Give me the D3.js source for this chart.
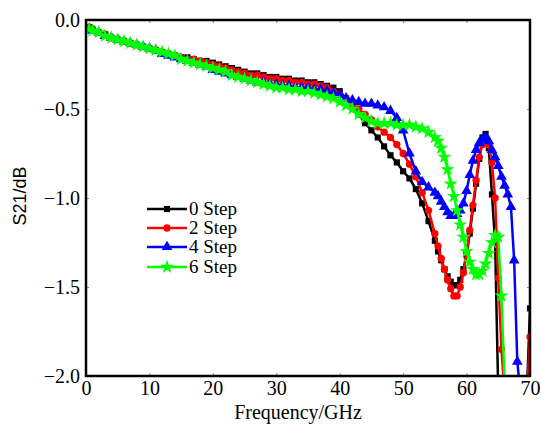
<!DOCTYPE html>
<html><head><meta charset="utf-8">
<script src="https://cdn.jsdelivr.net/npm/d3@7"></script>
<style>body{margin:0;background:#fff}svg{display:block}</style>
</head><body><svg id="c" width="541" height="432"></svg>
<script>
const freq = [0.5,
 1,2,3,4,5,6,7,8,9,10,11,12,13,14,15,16,17,18,19,20,21,22,23,24,25,26,27,28,29,30,
 31,32,33,34,35,36,37,38,39,40,41,42,43,44,45,46,47,48,49,50,51,52,53,54,55,
 55.5,56,56.5,57,57.5,58,58.5,59,59.5,60,60.5,61,61.5,62,62.5,63,63.5,64,64.5,65,
 65.5,66,66.5,67,67.5,68,68.5,69,69.5,70];

const step0 = [-0.04,
 -0.05,-0.07,-0.08,-0.10,-0.11,-0.12,-0.13,-0.14,-0.15,-0.16,
 -0.17,-0.18,-0.19,-0.20,-0.21,-0.21,-0.22,-0.23,-0.23,-0.24,
 -0.25,-0.26,-0.27,-0.28,-0.29,-0.30,-0.30,-0.31,-0.32,-0.32,
 -0.33,-0.33,-0.34,-0.34,-0.35,-0.35,-0.36,-0.37,-0.38,-0.40,
 -0.44,-0.48,-0.53,-0.58,-0.62,-0.66,-0.71,-0.76,-0.80,-0.85,
 -0.89,-0.95,-1.03,-1.13,-1.24,
 -1.30,-1.35,-1.40,-1.44,-1.47,-1.49,-1.49,-1.46,-1.40,-1.32,
 -1.20,-1.06,-0.92,-0.78,-0.66,-0.64,-0.72,-0.98,-1.25,-2.1,
 -2.1,-2.1,-2.1,-2.1,-2.1,-2.1,-2.1,-2.1,-2.1,-1.62];

const step2 = [-0.04,
 -0.05,-0.07,-0.08,-0.10,-0.11,-0.12,-0.13,-0.14,-0.15,-0.16,
 -0.17,-0.18,-0.19,-0.20,-0.21,-0.22,-0.22,-0.23,-0.24,-0.25,
 -0.26,-0.27,-0.28,-0.29,-0.30,-0.31,-0.31,-0.32,-0.33,-0.33,
 -0.34,-0.34,-0.35,-0.35,-0.36,-0.36,-0.37,-0.38,-0.40,-0.42,
 -0.44,-0.47,-0.50,-0.53,-0.56,-0.60,-0.63,-0.66,-0.70,-0.75,
 -0.81,-0.88,-0.97,-1.07,-1.20,
 -1.27,-1.34,-1.40,-1.46,-1.51,-1.55,-1.55,-1.50,-1.42,-1.31,
 -1.18,-1.04,-0.90,-0.77,-0.70,-0.67,-0.70,-0.80,-1.00,-1.45,
 -1.85,-2.1,-2.1,-2.1,-2.1,-2.1,-2.1,-2.1,-2.1,-1.78];

const step4 = [-0.05,
 -0.06,-0.07,-0.09,-0.10,-0.11,-0.12,-0.13,-0.14,-0.15,-0.16,
 -0.17,-0.19,-0.20,-0.21,-0.22,-0.23,-0.24,-0.25,-0.26,-0.28,
 -0.29,-0.30,-0.31,-0.32,-0.33,-0.34,-0.35,-0.35,-0.36,-0.36,
 -0.37,-0.37,-0.38,-0.38,-0.38,-0.39,-0.39,-0.40,-0.41,-0.42,
 -0.44,-0.45,-0.46,-0.47,-0.47,-0.48,-0.49,-0.51,-0.55,-0.62,
 -0.75,-0.85,-0.91,-0.94,-0.97,
 -0.99,-1.02,-1.05,-1.08,-1.10,-1.10,-1.09,-1.07,-1.03,-0.96,
 -0.87,-0.79,-0.73,-0.69,-0.67,-0.66,-0.68,-0.73,-0.77,-0.82,
 -0.88,-0.93,-0.98,-1.05,-1.35,-1.92,-2.1,-2.1,-2.1,-2.1];

const step6 = [-0.05,
 -0.06,-0.07,-0.09,-0.10,-0.11,-0.12,-0.13,-0.14,-0.15,-0.16,
 -0.17,-0.18,-0.19,-0.20,-0.22,-0.23,-0.24,-0.25,-0.26,-0.27,
 -0.28,-0.29,-0.31,-0.32,-0.33,-0.34,-0.35,-0.36,-0.37,-0.38,
 -0.38,-0.39,-0.39,-0.40,-0.40,-0.41,-0.42,-0.43,-0.44,-0.46,
 -0.48,-0.50,-0.53,-0.55,-0.57,-0.58,-0.58,-0.58,-0.59,-0.59,
 -0.59,-0.60,-0.61,-0.63,-0.66,
 -0.68,-0.72,-0.77,-0.84,-0.92,-0.99,-1.07,-1.15,-1.22,-1.30,
 -1.36,-1.40,-1.43,-1.43,-1.41,-1.37,-1.31,-1.25,-1.21,-1.22,
 -1.55,-2.05,-2.1,-2.1,-2.1,-2.1,-2.1,-2.1,-2.1,-2.1];

const seriesNames = ["0 Step","2 Step","4 Step","6 Step"];
const seriesColors = ["#000000","#ff0000","#0000ff","#00ff00"];
const xTicks = [0,10,20,30,40,50,60,70];
const yTicks = [0,-0.5,-1.0,-1.5,-2.0];

const svg = d3.select("#c");
const L=86,R=530,T=20,B=376;
const x = d3.scaleLinear().domain([0,70]).range([L,R]);
const y = d3.scaleLinear().domain([-2,0]).range([B,T]);

const symbols = [d3.symbolSquare, d3.symbolCircle, d3.symbolTriangle, d3.symbolStar];
const symSizes = [38, 42, 50, 62];
const allVals = [step0, step2, step4, step6];

svg.append("defs").append("clipPath").attr("id","clip")
  .append("rect").attr("x",L).attr("y",T).attr("width",R-L).attr("height",B-T);

const plot = svg.append("g").attr("clip-path","url(#clip)");
const line = d3.line().x(d=>x(d[0])).y(d=>y(d[1]));

allVals.forEach((vals,i)=>{
  const pts = freq.map((f,j)=>[f, vals[j]]);
  const g = plot.append("g");
  g.append("path").datum(pts).attr("d",line)
    .attr("fill","none").attr("stroke",seriesColors[i]).attr("stroke-width",2.5);
  g.selectAll("path.m").data(pts).enter().append("path").attr("class","m")
    .attr("transform",d=>`translate(${x(d[0])},${y(d[1])})`)
    .attr("d",d3.symbol().type(symbols[i]).size(symSizes[i]))
    .attr("fill",seriesColors[i]);
});

const fontSerif = "'Liberation Serif','Times New Roman',serif";
function styleAxis(g){
  g.attr("font-family",fontSerif).attr("font-size",20);
  g.select(".domain").remove();
  g.selectAll(".tick line").attr("stroke","#888").attr("stroke-width",1);
  g.selectAll("text").attr("font-family",fontSerif).attr("font-size",20).attr("fill","#000");
}
svg.append("g").attr("transform",`translate(0,${B})`)
  .call(d3.axisBottom(x).tickValues(xTicks).tickSize(-3).tickPadding(5).tickFormat(d3.format("d")))
  .call(styleAxis);
svg.append("g").attr("transform",`translate(${L},0)`)
  .call(d3.axisLeft(y).tickValues(yTicks).tickSize(-3).tickPadding(6).tickFormat(d3.format(".1f")))
  .call(styleAxis);
svg.append("g").attr("transform",`translate(0,${T})`)
  .call(d3.axisTop(x).tickValues(xTicks).tickSize(-3).tickFormat(""))
  .call(styleAxis);
svg.append("g").attr("transform",`translate(${R},0)`)
  .call(d3.axisRight(y).tickValues(yTicks).tickSize(-3).tickFormat(""))
  .call(styleAxis);

svg.append("rect").attr("x",L).attr("y",T).attr("width",R-L).attr("height",B-T)
  .attr("fill","none").attr("stroke","#000").attr("stroke-width",2.5);

svg.append("text").attr("x",298).attr("y",419).attr("text-anchor","middle")
  .attr("font-family",fontSerif).attr("font-size",20).text("Frequency/GHz");
svg.append("text").attr("transform","translate(26,196) rotate(-90)").attr("text-anchor","middle")
  .attr("font-family","'Liberation Sans',Arial,sans-serif").attr("font-size",18).text("S21/dB");

// legend
const legY = [209,228,247,267];
const leg = svg.append("g");
seriesNames.forEach((n,i)=>{
  leg.append("line").attr("x1",147).attr("x2",187).attr("y1",legY[i]).attr("y2",legY[i])
    .attr("stroke",seriesColors[i]).attr("stroke-width",2.5);
  leg.append("path").attr("transform",`translate(167,${legY[i]})`)
    .attr("d",d3.symbol().type(symbols[i]).size(symSizes[i])).attr("fill",seriesColors[i]);
  leg.append("text").attr("x",189).attr("y",legY[i]+6)
    .attr("font-family",fontSerif).attr("font-size",19).text(n);
});
</script></body></html>
